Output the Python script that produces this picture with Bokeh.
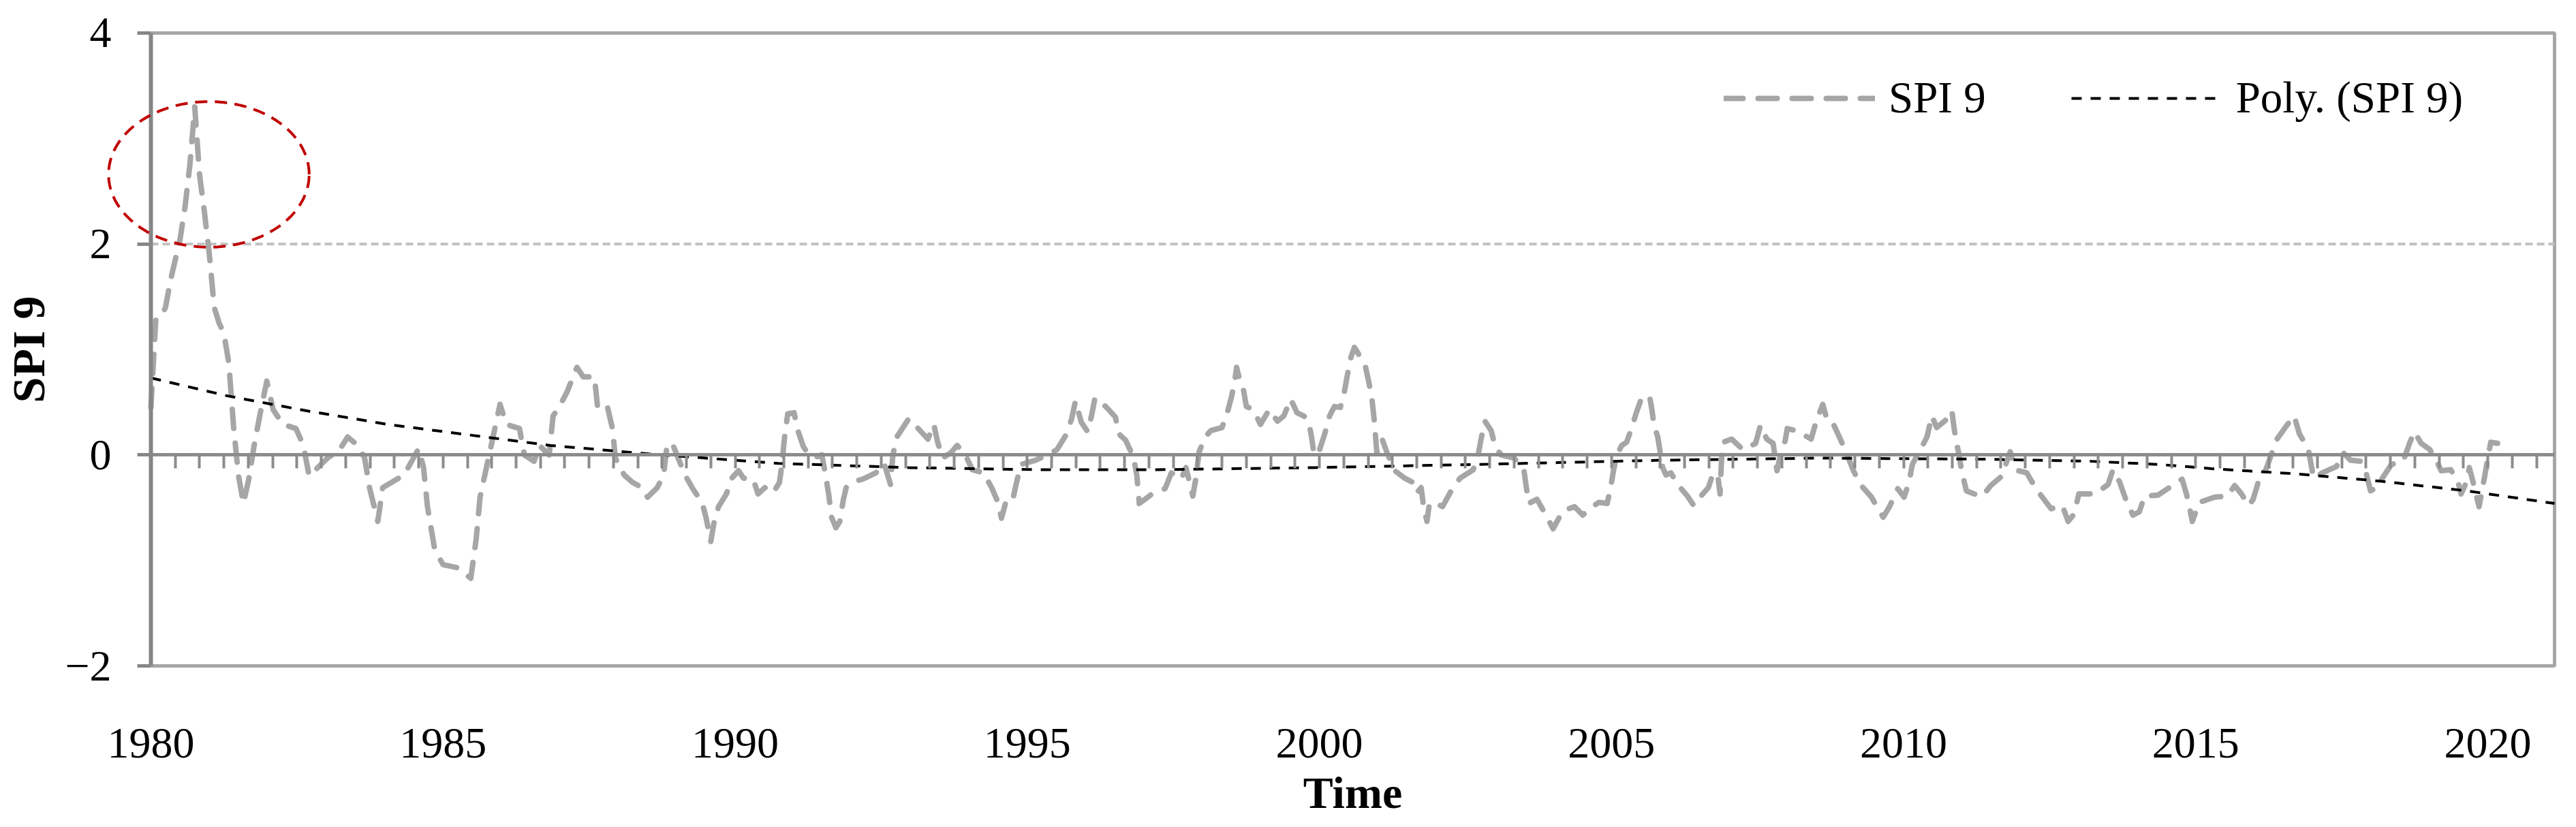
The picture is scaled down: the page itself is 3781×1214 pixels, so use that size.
import numpy as np
from bokeh.plotting import figure
from bokeh.models import Range1d, FixedTicker, Legend, LegendItem, LinearAxis, PolyAnnotation
from bokeh.embed import file_html
from bokeh.resources import INLINE

FONT = "Liberation Serif"

# ---- SPI 9 series: (month index from Jan 1980, value) ----
spi_1980s = [(0, 0.45), (1, 1.28), (2, 1.30), (3, 1.40), (4, 1.65), (5, 1.85), (6, 2.05), (7, 2.35),
             (8, 2.75), (9, 3.30), (10, 2.65), (11, 2.30), (12, 1.90), (13, 1.40), (14, 1.25), (15, 1.15),
             (16, 0.87), (17, 0.25), (18, -0.20), (19, -0.46), (20.1, -0.23), (21.2, 0.09), (22.6, 0.43),
             (23.8, 0.70), (25.1, 0.43), (27.1, 0.29), (29.8, 0.25), (31.3, 0.09), (32.5, -0.20),
             (36.5, -0.02), (38.5, 0.03), (40.4, 0.17), (42.5, 0.09), (43.9, -0.03), (44.9, -0.31),
             (46.6, -0.63), (47.6, -0.31), (52.0, -0.19), (55.0, 0.06), (56.0, -0.12), (56.8, -0.49),
             (58.3, -0.90), (60.0, -1.04), (63.0, -1.07), (65.7, -1.17), (66.8, -0.80), (67.6, -0.40),
             (68.4, -0.23), (69.9, 0.09), (71.7, 0.48), (73.0, 0.29), (75.7, 0.25), (76.7, 0.00),
             (78.7, -0.06), (79.8, 0.09), (81.8, 0.00), (82.6, 0.37), (83.8, 0.45), (85.4, 0.59),
             (87.5, 0.83), (88.8, 0.74), (91.1, 0.74), (91.8, 0.43), (93.8, 0.45), (94.8, 0.25),
             (95.4, -0.03), (97.2, -0.19), (98.9, -0.26), (100.9, -0.31)]

spi_1990s = [(102.0, -0.40), (104.0, -0.31), (105.3, -0.19), (105.9, 0.05), (107.0, 0.12), (108.3, -0.03),
             (109.7, -0.19), (111.3, -0.32), (113.2, -0.45), (114.0, -0.59), (115.0, -0.82), (115.7, -0.63),
             (116.6, -0.49), (118.2, -0.37), (119.3, -0.22), (120.7, -0.15), (121.7, -0.22), (123.7, -0.23),
             (124.7, -0.37), (126.1, -0.31), (127.8, -0.36), (129.1, -0.26), (129.6, -0.09), (130.2, 0.19),
             (130.8, 0.39), (132.1, 0.40), (132.9, 0.23), (134.0, 0.08), (135.1, 0.00), (136.5, -0.02),
             (137.8, 0.00), (138.5, -0.17), (139.2, -0.37), (139.8, -0.59), (140.7, -0.69), (141.5, -0.63),
             (142.2, -0.43), (142.8, -0.31), (144.5, -0.25), (146.2, -0.23), (148.9, -0.17), (150.6, -0.08),
             (151.9, -0.28), (152.4, 0.00), (153.2, 0.17), (155.6, 0.34), (156.6, 0.32), (157.6, 0.25),
             (159.6, 0.15), (160.8, 0.29), (161.6, 0.12), (162.6, -0.03), (164.3, 0.02), (165.6, 0.09),
             (167.3, 0.00), (168.7, -0.14), (171.0, -0.17), (172.7, -0.31), (174.0, -0.45), (174.7, -0.60),
             (175.7, -0.43), (177.0, -0.43), (177.8, -0.26), (178.7, -0.09), (181.7, -0.05), (184.1, 0.00),
             (186.1, 0.05), (188.1, 0.20), (189.1, 0.34), (189.9, 0.51), (191.1, 0.31), (192.4, 0.22),
             (193.2, 0.37), (193.9, 0.54), (196.1, 0.46), (198.1, 0.36), (198.8, 0.20), (200.2, 0.14),
             (201.8, -0.02), (202.5, -0.19), (203.0, -0.46), (204.2, -0.42)]

spi_2000s = [(205.6, -0.37), (208.3, -0.32), (209.6, -0.17), (211.6, -0.23), (212.6, -0.12), (214.0, -0.39),
             (214.6, -0.23), (215.3, 0.03), (216.5, 0.17), (217.7, 0.23), (220.0, 0.26), (221.2, 0.42),
             (222.0, 0.56), (222.7, 0.73), (223.0, 0.83), (223.7, 0.70), (224.4, 0.62), (225.0, 0.46),
             (226.4, 0.43), (227.9, 0.29), (229.7, 0.43), (231.4, 0.32), (232.7, 0.37), (234.1, 0.53),
             (235.4, 0.40), (236.8, 0.37), (237.8, 0.31), (238.4, 0.17), (238.9, 0.00), (239.9, 0.03),
             (241.1, 0.20), (242.1, 0.37), (243.1, 0.46), (244.3, 0.45), (245.1, 0.59), (245.8, 0.77),
             (246.5, 0.93), (247.2, 1.02), (248.0, 0.96), (249.5, 0.83), (250.2, 0.68), (250.8, 0.53),
             (251.2, 0.36), (251.5, 0.20), (251.8, 0.02), (252.9, 0.15), (253.9, 0.02), (255.5, -0.15),
             (257.5, -0.22), (259.2, -0.26), (260.0, -0.36), (260.9, -0.31), (261.4, -0.49), (262.1, -0.63),
             (262.6, -0.46), (263.9, -0.46), (265.3, -0.49), (267.3, -0.32), (268.9, -0.22), (271.6, -0.14),
             (272.6, 0.00), (273.3, 0.17), (274.0, 0.32), (275.3, 0.23), (276.1, 0.08), (277.3, 0.00),
             (280.0, -0.03), (282.0, -0.14), (282.7, -0.37), (283.0, -0.46), (284.7, -0.42), (286.4, -0.56),
             (288.0, -0.70), (290.0, -0.53), (292.4, -0.49), (294.1, -0.57), (295.4, -0.51), (297.4, -0.45),
             (299.1, -0.46), (299.8, -0.32), (300.4, -0.15), (301.1, 0.00), (302.1, 0.09), (303.1, 0.12),
             (304.1, 0.25), (305.1, 0.40), (306.1, 0.53), (307.8, 0.56), (308.3, 0.43), (308.7, 0.29),
             (309.5, 0.17), (310.2, -0.03)]

spi_2010s = [(310.5, -0.12), (311.2, -0.19), (312.2, -0.17), (313.6, -0.28), (315.6, -0.39), (316.9, -0.48),
             (317.8, -0.42), (319.9, -0.31), (320.9, -0.17), (321.9, -0.22), (322.3, -0.37), (322.6, -0.05),
             (322.9, 0.12), (324.7, 0.15), (327.0, 0.05), (329.6, 0.11), (330.6, 0.28), (331.9, 0.15),
             (333.2, 0.11), (334.0, -0.15), (334.7, 0.00), (335.7, 0.14), (336.1, 0.25), (338.0, 0.23),
             (341.0, 0.15), (342.0, 0.31), (343.4, 0.48), (344.4, 0.31), (345.7, 0.28), (347.1, 0.14),
             (348.4, 0.00), (349.7, -0.15), (351.1, -0.28), (353.4, -0.40), (355.8, -0.59), (357.1, -0.49),
             (358.8, -0.32), (360.1, -0.40), (361.1, -0.26), (361.8, -0.09), (362.8, 0.00), (363.8, 0.08),
             (364.8, 0.17), (365.8, 0.37), (366.8, 0.26), (368.9, 0.34), (369.9, 0.42), (370.3, 0.28),
             (370.7, 0.15), (371.4, 0.00), (371.9, -0.15), (372.9, -0.34), (374.5, -0.37), (376.2, -0.39),
             (377.9, -0.29), (380.2, -0.20), (381.2, -0.06), (381.9, 0.03), (382.6, -0.08), (383.6, -0.15),
             (385.3, -0.17), (386.3, -0.25), (388.0, -0.37), (390.3, -0.51), (392.6, -0.48), (393.8, -0.63),
             (395.0, -0.56), (396.0, -0.37), (399.3, -0.37), (402.0, -0.28), (403.0, -0.14), (404.4, -0.26),
             (405.7, -0.43), (407.1, -0.57), (408.4, -0.54), (409.5, -0.39), (412.3, -0.38)]

spi_2015s = [(415.2, -0.29), (417.2, -0.23), (418.1, -0.37), (418.7, -0.49), (419.3, -0.63), (420.7, -0.45),
             (423.9, -0.40), (426.5, -0.39), (428.0, -0.29), (429.4, -0.37), (430.9, -0.48), (431.8, -0.42),
             (432.9, -0.25), (434.4, -0.14), (435.5, 0.00), (436.7, 0.15), (438.7, 0.28), (440.2, 0.37),
             (441.3, 0.20), (443.1, 0.06), (443.7, -0.09), (444.2, -0.22), (446.0, -0.17), (448.9, -0.11),
             (450.3, 0.02), (451.8, -0.05), (453.8, -0.06), (455.0, -0.17), (455.9, -0.34), (457.3, -0.31),
             (458.2, -0.23), (460.2, -0.09), (462.6, -0.06), (464.0, 0.12), (464.9, 0.22), (466.3, 0.11),
             (468.1, 0.05), (469.5, -0.06), (470.4, -0.15), (472.4, -0.14), (473.9, -0.26), (474.5, -0.37),
             (475.6, -0.26), (476.2, -0.12), (477.1, -0.28), (478.2, -0.49), (478.8, -0.34), (479.4, -0.19),
             (480.0, -0.03), (480.6, 0.12), (482.0, 0.11)]

# ---- polynomial trend line ----
poly_trend = [(0, 0.73), (15.7, 0.56), (31.8, 0.42), (48.6, 0.29), (65.3, 0.19), (82.1, 0.09),
              (102.2, 0.01), (128.8, -0.08), (155.6, -0.12), (182.4, -0.14), (206.5, -0.14),
              (239.1, -0.12), (272.6, -0.09), (310.1, -0.05), (342.7, -0.03), (376.3, -0.04),
              (398.4, -0.06), (412.4, -0.09), (423.3, -0.13), (440.8, -0.18), (458.2, -0.25),
              (475.6, -0.34), (493.7, -0.46)]

# ---- axes ----
x_start, x_end = 0, 493.7           # category axis extent (months from Jan 1980)
y_min, y_max = -2, 4
label_months = [0, 60, 120, 180, 240, 300, 360, 420, 480]
year_labels = ["1980", "1985", "1990", "1995", "2000", "2005", "2010", "2015", "2020"]
minor_tick_months = list(range(0, 495, 5))
y_ticks = [-2, 0, 2, 4]
y_tick_labels = ["\u22122", "0", "2", "4"]
grid_value = 2

# view window around the plot area (room for labels, titles and the highlight ellipse)
view_x = (-30.93, 495.94)
view_y = (-3.479, 4.310)

# ---- highlight ellipse (centre month, centre value, width in months, height in value) ----
ellipse_c = (11.9, 2.66)
ellipse_size = (41.2, 1.38)

spi = spi_1980s + spi_1990s + spi_2000s + spi_2010s + spi_2015s
spi_m = [a for a, b in spi]
spi_v = [b for a, b in spi]
tr_m = [a for a, b in poly_trend]
tr_v = [b for a, b in poly_trend]

p = figure(width=3765, height=1206, x_range=Range1d(*view_x), y_range=Range1d(*view_y),
           output_backend="svg", toolbar_location=None,
           min_border_left=0, min_border_right=0, min_border_top=0, min_border_bottom=0)
p.title.visible = False
p.background_fill_color = "white"
p.border_fill_color = "white"
p.outline_line_color = None
p.xgrid.visible = False
p.ygrid.visible = False

# plot-area border (top, right, bottom) and the single horizontal gridline
p.line([x_start, x_end, x_end, x_start], [y_max, y_max, y_min, y_min],
       line_color="#a6a6a6", line_width=5)
p.line([x_start, x_end], [grid_value, grid_value], line_color="#c0c0c0", line_width=4, line_dash="11 6")

# value axis, drawn at the first category
ya = p.yaxis[0]
ya.fixed_location = x_start
ya.bounds = (y_min, y_max)
ya.ticker = FixedTicker(ticks=y_ticks)
ya.major_label_overrides = {t: s for t, s in zip(y_ticks, y_tick_labels)}
ya.axis_line_color = "#868686"
ya.axis_line_width = 6
ya.major_tick_line_color = "#868686"
ya.major_tick_line_width = 5
ya.major_tick_out = 20
ya.major_tick_in = 0
ya.minor_tick_line_color = None
ya.major_label_standoff = 38
ya.major_label_text_font = FONT
ya.major_label_text_font_size = "64px"
ya.major_label_text_color = "black"
ya.axis_label = "SPI 9"
ya.axis_label_text_font = FONT
ya.axis_label_text_font_size = "68px"
ya.axis_label_text_font_style = "bold"
ya.axis_label_text_color = "black"
ya.axis_label_standoff = 12

# year labels, below the plot area (labels "low")
xa = p.xaxis[0]
xa.fixed_location = y_min
xa.bounds = (x_start, x_end)
xa.ticker = FixedTicker(ticks=label_months)
xa.major_label_overrides = {m: s for m, s in zip(label_months, year_labels)}
xa.axis_line_color = None
xa.major_tick_line_color = None
xa.minor_tick_line_color = None
xa.major_tick_out = 0
xa.major_tick_in = 0
xa.major_label_standoff = 92
xa.major_label_text_font = FONT
xa.major_label_text_font_size = "64px"
xa.major_label_text_color = "black"
xa.axis_label = "Time"
xa.axis_label_text_font = FONT
xa.axis_label_text_font_size = "66px"
xa.axis_label_text_font_style = "bold"
xa.axis_label_text_color = "black"
xa.axis_label_standoff = 12

# category axis line crossing at 0 with tick marks every 5 categories
zero_axis = LinearAxis(fixed_location=0, bounds=(x_start, x_end), ticker=FixedTicker(ticks=minor_tick_months),
                       axis_line_color="#8c8c8c", axis_line_width=5,
                       major_tick_line_color="#8c8c8c", major_tick_line_width=4,
                       major_tick_out=20, major_tick_in=0,
                       minor_tick_line_color=None,
                       major_label_text_color=None, major_label_text_font_size="1px",
                       major_label_standoff=0)
p.add_layout(zero_axis, "below")

r_spi = p.line(spi_m, spi_v, line_color="#a6a6a6", line_width=8, line_dash="28 22",
               line_cap="round", line_join="round")
r_tr = p.line(tr_m, tr_v, line_color="black", line_width=4, line_dash="15 13")

th = np.linspace(0, 2 * np.pi, 200)
ell = PolyAnnotation(xs=list(ellipse_c[0] + ellipse_size[0] / 2 * np.cos(th)),
                     ys=list(ellipse_c[1] + ellipse_size[1] / 2 * np.sin(th)),
                     fill_alpha=0, line_color="#c00000", line_alpha=1.0, line_width=4, line_dash="18 11")
p.add_layout(ell)

legend = Legend(items=[LegendItem(label="SPI 9", renderers=[r_spi]),
                       LegendItem(label="Poly. (SPI 9)", renderers=[r_tr])],
                orientation="horizontal", location=(2530, 1025),
                glyph_width=222, glyph_height=40, label_standoff=20, spacing=125,
                padding=0, margin=0, border_line_color=None, background_fill_alpha=0,
                label_text_font=FONT, label_text_font_size="65px", label_text_color="black")
p.add_layout(legend)

open("out.html", "w").write(file_html(p, INLINE))
